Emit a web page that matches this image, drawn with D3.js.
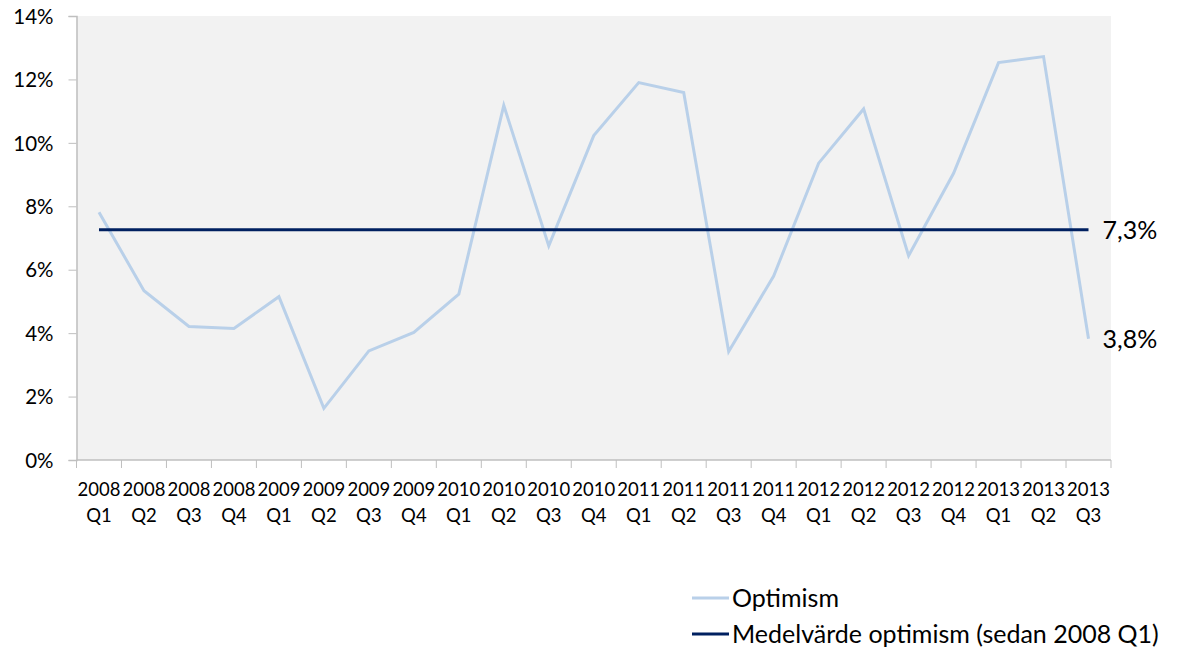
<!DOCTYPE html>
<html>
<head>
<meta charset="utf-8">
<script src="https://cdn.jsdelivr.net/npm/d3@7"></script>
<style>
  body { margin: 0; background: #fff; }
  text { font-family: Lato, "Open Sans", sans-serif; fill: #000; }
</style>
</head>
<body>
<div id="chart"></div>
<script>
// data
var quarters = ["2008 Q1","2008 Q2","2008 Q3","2008 Q4","2009 Q1","2009 Q2","2009 Q3","2009 Q4",
                "2010 Q1","2010 Q2","2010 Q3","2010 Q4","2011 Q1","2011 Q2","2011 Q3","2011 Q4",
                "2012 Q1","2012 Q2","2012 Q3","2012 Q4","2013 Q1","2013 Q2","2013 Q3"];
var optimism = [7.81, 5.34, 4.21, 4.15, 5.15, 1.63, 3.44, 4.02,
                5.23, 11.18, 6.75, 10.23, 11.9, 11.59, 3.42, 5.8,
                9.36, 11.07, 6.44, 9.04, 12.53, 12.72, 3.82];
var meanOptimism = 7.26;
var yTicks = [0, 2, 4, 6, 8, 10, 12, 14];
var seriesNames = ["Optimism", "Medelvärde optimism (sedan 2008 Q1)"];
var endLabels = ["7,3%", "3,8%"];

var width = 1188, height = 650;
var margin = {left: 76.5, right: 77, top: 16, bottom: 190};
var plot_w = width - margin.left - margin.right,
    plot_h = height - margin.top - margin.bottom;

var svg = d3.select("#chart").append("svg")
    .attr("width", width)
    .attr("height", height);

var g = svg.append("g")
    .attr("transform", "translate(" + margin.left + "," + margin.top + ")");

var x = d3.scaleBand().domain(quarters).range([0, plot_w]);
var y = d3.scaleLinear().domain([0, 14]).range([plot_h, 0]);

// plot background
g.append("rect")
    .attr("width", plot_w)
    .attr("height", plot_h)
    .attr("fill", "#f2f2f2");

// y axis
var yAxis = g.append("g")
    .call(d3.axisLeft(y).tickValues(yTicks).tickSize(8).tickPadding(15)
        .tickFormat(function(d) { return d + "%"; }));
yAxis.select(".domain").attr("stroke", "#bfbfbf").attr("stroke-width", 1.5);
yAxis.selectAll(".tick line").attr("stroke", "#bfbfbf");
yAxis.selectAll(".tick text").style("font-size", "20.5px").attr("dy", "0.35em");

// x axis: ticks at band boundaries
var xAxisG = g.append("g").attr("transform", "translate(0," + plot_h + ")");
xAxisG.append("line")
    .attr("x1", 0).attr("x2", plot_w)
    .attr("stroke", "#bfbfbf").attr("stroke-width", 1.5);
xAxisG.selectAll(".xtick")
    .data(quarters.concat(["end"]))
    .enter().append("line")
    .attr("class", "xtick")
    .attr("x1", function(d, i) { return i * x.step(); })
    .attr("x2", function(d, i) { return i * x.step(); })
    .attr("y1", 0).attr("y2", 8)
    .attr("stroke", "#bfbfbf");

var xLabels = xAxisG.selectAll(".xlabel")
    .data(quarters)
    .enter().append("text")
    .attr("class", "xlabel")
    .attr("text-anchor", "middle")
    .style("font-size", "18.5px")
    .attr("transform", function(d) { return "translate(" + (x(d) + x.bandwidth() / 2) + ",0)"; });
xLabels.append("tspan").attr("x", 0).attr("y", 36).text(function(d) { return d.split(" ")[0]; });
xLabels.append("tspan").attr("x", 0).attr("y", 62).text(function(d) { return d.split(" ")[1]; });

var cx = function(d, i) { return x(quarters[i]) + x.bandwidth() / 2; };

// optimism line
var line = d3.line()
    .x(cx)
    .y(function(d) { return y(d); });

g.append("path")
    .datum(optimism)
    .attr("d", line)
    .attr("fill", "none")
    .attr("stroke", "#b9d0e9")
    .attr("stroke-width", 3);

// mean line
var x_first = x(quarters[0]) + x.bandwidth() / 2,
    x_last = x(quarters[quarters.length - 1]) + x.bandwidth() / 2;
g.append("line")
    .attr("x1", x_first).attr("x2", x_last)
    .attr("y1", y(meanOptimism)).attr("y2", y(meanOptimism))
    .attr("stroke", "#002060")
    .attr("stroke-width", 3);

// end labels
g.append("text")
    .attr("x", x_last + 14)
    .attr("y", y(meanOptimism))
    .attr("dy", "0.35em")
    .style("font-size", "25px")
    .text(endLabels[0]);
g.append("text")
    .attr("x", x_last + 14)
    .attr("y", y(optimism[optimism.length - 1]))
    .attr("dy", "0.35em")
    .style("font-size", "25px")
    .text(endLabels[1]);

// legend
var legend = svg.selectAll(".legend")
    .data(seriesNames)
    .enter().append("g")
    .attr("class", "legend")
    .attr("transform", function(d, i) { return "translate(692," + (598 + i * 36) + ")"; });

legend.append("line")
    .attr("x1", 0).attr("x2", 37)
    .attr("stroke", function(d, i) { return i === 0 ? "#b9d0e9" : "#002060"; })
    .attr("stroke-width", 3);

legend.append("text")
    .attr("x", 40)
    .attr("dy", "0.35em")
    .style("font-size", "25px")
    .text(function(d) { return d; });
</script>
</body>
</html>
